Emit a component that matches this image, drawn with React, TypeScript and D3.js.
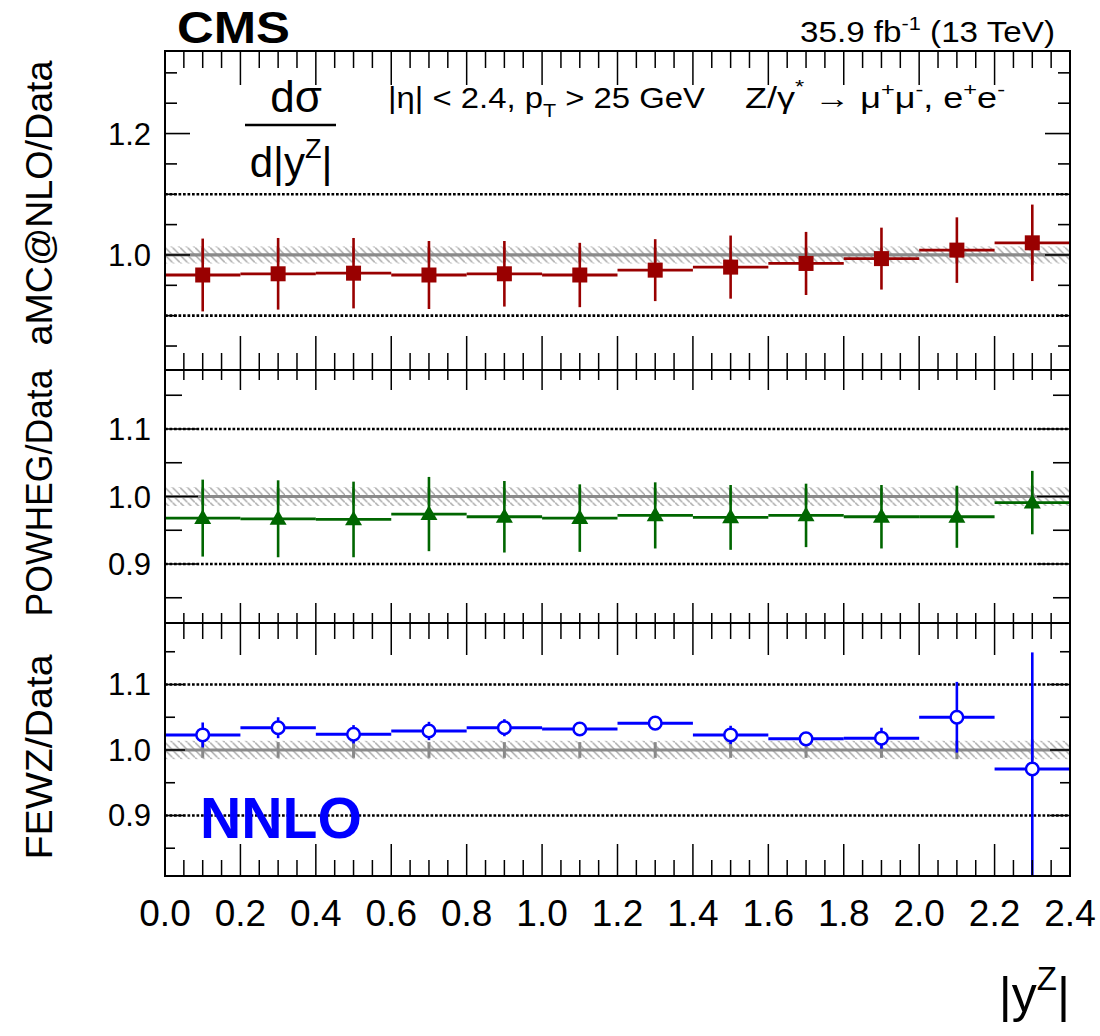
import React from "react";
import * as d3 from "d3";

// ---------- data ----------
const binEdges = [0.0, 0.2, 0.4, 0.6, 0.8, 1.0, 1.2, 1.4, 1.6, 1.8, 2.0, 2.2, 2.4];
const xTickLabels = ["0.0", "0.2", "0.4", "0.6", "0.8", "1.0", "1.2", "1.4", "1.6", "1.8", "2.0", "2.2", "2.4"];

const amcVal = [0.967, 0.969, 0.970, 0.967, 0.969, 0.967, 0.975, 0.980, 0.986, 0.994, 1.008, 1.020];
const amcErr = [0.060, 0.059, 0.058, 0.056, 0.054, 0.053, 0.051, 0.052, 0.052, 0.051, 0.054, 0.063];

const powVal = [0.968, 0.967, 0.966, 0.974, 0.970, 0.968, 0.972, 0.969, 0.972, 0.970, 0.970, 0.991];
const powErr = [0.057, 0.057, 0.056, 0.055, 0.053, 0.050, 0.049, 0.048, 0.047, 0.047, 0.046, 0.047];

const fewzVal = [1.023, 1.034, 1.024, 1.029, 1.034, 1.032, 1.041, 1.023, 1.017, 1.018, 1.050, 0.971];
const fewzErr = [0.019, 0.016, 0.014, 0.014, 0.013, 0.009, 0.008, 0.014, 0.008, 0.016, 0.054, 0.178];

const dataErr = [0.012, 0.012, 0.012, 0.012, 0.012, 0.012, 0.012, 0.012, 0.012, 0.012, 0.014, 0.016];
const bandHalf = 0.014;

const topMajor = [1.0, 1.2];
const topMinor = [0.85, 0.9, 0.95, 1.05, 1.1, 1.15, 1.25, 1.3];
const lowMajor = [0.9, 1.0, 1.1];
const lowMinor = [0.85, 0.95, 1.05, 1.15];
const gridVals = [0.9, 1.1];

// ---------- layout ----------
const X0 = 165, X1 = 1070;
const FONT = "'Liberation Sans', Arial, Helvetica, sans-serif";

const x = d3.scaleLinear().domain([0, 2.4]).range([X0, X1]);

type Panel = {
  top: number; bottom: number; domain: [number, number];
  vals: number[]; errs: number[]; color: string; marker: "square" | "tri" | "circle";
  major: number[]; minor: number[]; labels: string[];
  xMin: number; xMaj: number; yMin: number; yMaj: number;
  title: string; titleY: number; titleLen: number; lineW: number;
};

const panels: Panel[] = [
  { top: 51, bottom: 370, domain: [0.8105, 1.336], vals: amcVal, errs: amcErr, color: "#990000", marker: "square",
    major: topMajor, minor: topMinor, labels: ["1.0", "1.2"], xMin: 17, xMaj: 34, yMin: 12, yMaj: 25,
    title: "aMC@NLO/Data", titleY: 203, titleLen: 285, lineW: 2.8 },
  { top: 370, bottom: 623, domain: [0.8126, 1.1874], vals: powVal, errs: powErr, color: "#006600", marker: "tri",
    major: lowMajor, minor: lowMinor, labels: ["0.9", "1.0", "1.1"], xMin: 10, xMaj: 20, yMin: 17, yMaj: 33,
    title: "POWHEG/Data", titleY: 493, titleLen: 247, lineW: 2.8 },
  { top: 623, bottom: 876, domain: [0.8076, 1.1939], vals: fewzVal, errs: fewzErr, color: "#0000ff", marker: "circle",
    major: lowMajor, minor: lowMinor, labels: ["0.9", "1.0", "1.1"], xMin: 16, xMaj: 32, yMin: 10, yMaj: 20,
    title: "FEWZ/Data", titleY: 757, titleLen: 205, lineW: 3 },
];

const xMinorTicks = d3.range(0, 49).map((i) => i * 0.05);

function PanelView({ p, idx }: { p: Panel; idx: number }) {
  const y = d3.scaleLinear().domain(p.domain).range([p.bottom, p.top]);
  const centers = binEdges.slice(0, -1).map((e, i) => (e + binEdges[i + 1]) / 2);
  const clip = `clip${idx}`;
  const cy = (v: number) => y(Math.max(p.domain[0], Math.min(p.domain[1], v)));
  return (
    <g>
      <defs>
        <clipPath id={clip}>
          <rect x={X0} y={p.top} width={X1 - X0} height={p.bottom - p.top} />
        </clipPath>
      </defs>
      {gridVals.map((g) => (
        <line key={g} x1={X0} x2={X1} y1={y(g)} y2={y(g)} stroke="#000" strokeWidth={2.6} strokeDasharray="2.7,1.8" />
      ))}
      <rect x={X0} y={y(1 + bandHalf)} width={X1 - X0} height={y(1 - bandHalf) - y(1 + bandHalf)} fill="url(#hatch)" />
      {centers.map((c, i) => (
        <line key={"d" + i} x1={x(c)} x2={x(c)} y1={y(1 + dataErr[i])} y2={y(1 - dataErr[i])} stroke="#888" strokeWidth={3} />
      ))}
      <line x1={X0} x2={X1} y1={y(1)} y2={y(1)} stroke="#8a8a8a" strokeWidth={3.2} />
      <g clipPath={`url(#${clip})`}>
        {centers.map((c, i) => (
          <g key={"s" + i}>
            <line x1={x(binEdges[i])} x2={x(binEdges[i + 1])} y1={y(p.vals[i])} y2={y(p.vals[i])} stroke={p.color} strokeWidth={p.lineW} />
            <line x1={x(c)} x2={x(c)} y1={cy(p.vals[i] + p.errs[i])} y2={cy(p.vals[i] - p.errs[i])} stroke={p.color} strokeWidth={2.6} />
            {p.marker === "square" && (
              <rect x={x(c) - 7.5} y={y(p.vals[i]) - 7.5} width={15} height={15} fill={p.color} />
            )}
            {p.marker === "tri" && (
              <path d={d3.symbol(d3.symbolTriangle, 125)() || ""} transform={`translate(${x(c)},${y(p.vals[i]) + 1})`} fill={p.color} />
            )}
            {p.marker === "circle" && (
              <circle cx={x(c)} cy={y(p.vals[i])} r={6.3} fill="#fff" stroke={p.color} strokeWidth={2.5} />
            )}
          </g>
        ))}
      </g>
      {xMinorTicks.map((t, i) => {
        const len = i % 4 === 0 ? p.xMaj : p.xMin;
        return (
          <g key={"xt" + i}>
            <line x1={x(t)} x2={x(t)} y1={p.top} y2={p.top + len} stroke="#000" strokeWidth={1.5} />
            <line x1={x(t)} x2={x(t)} y1={p.bottom} y2={p.bottom - len} stroke="#000" strokeWidth={1.5} />
          </g>
        );
      })}
      {p.major.map((t) => (
        <g key={"ym" + t}>
          <line x1={X0} x2={X0 + p.yMaj} y1={y(t)} y2={y(t)} stroke="#000" strokeWidth={1.6} />
          <line x1={X1} x2={X1 - p.yMaj} y1={y(t)} y2={y(t)} stroke="#000" strokeWidth={1.6} />
        </g>
      ))}
      {p.minor.map((t) => (
        <g key={"yn" + t}>
          <line x1={X0} x2={X0 + p.yMin} y1={y(t)} y2={y(t)} stroke="#000" strokeWidth={1.6} />
          <line x1={X1} x2={X1 - p.yMin} y1={y(t)} y2={y(t)} stroke="#000" strokeWidth={1.6} />
        </g>
      ))}
      {p.major.map((t, i) => (
        <text key={"yl" + t} x={151} y={y(t) + 11} textAnchor="end" fontSize={31} fontFamily={FONT} fill="#000">
          {p.labels[i]}
        </text>
      ))}
      <text transform={`translate(52,${p.titleY}) rotate(-90)`} textAnchor="middle" fontSize={37} fontFamily={FONT} fill="#000"
        textLength={p.titleLen} lengthAdjust="spacingAndGlyphs">
        {p.title}
      </text>
    </g>
  );
}

export default function App() {
  return (
    <svg width={1100} height={1036} style={{ position: "absolute", left: 0, top: 0, background: "#fff" }} fontFamily={FONT}>
      <defs>
        <pattern id="hatch" patternUnits="userSpaceOnUse" width={7.5} height={7.5}>
          <line x1={0} y1={0} x2={7.5} y2={7.5} stroke="#a0a0a0" strokeWidth={1.3} />
        </pattern>
      </defs>
      <rect x={0} y={0} width={1100} height={1036} fill="#fff" />
      {panels.map((p, i) => (
        <PanelView key={i} p={p} idx={i} />
      ))}
      <rect x={X0} y={51} width={X1 - X0} height={876 - 51} fill="none" stroke="#000" strokeWidth={2} />
      <line x1={X0} x2={X1} y1={370} y2={370} stroke="#000" strokeWidth={2} />
      <line x1={X0} x2={X1} y1={623} y2={623} stroke="#000" strokeWidth={2} />
      {binEdges.map((e, i) => (
        <text key={"xl" + i} x={x(e)} y={926} textAnchor="middle" fontSize={37} fill="#000">
          {xTickLabels[i]}
        </text>
      ))}
      <text x={1070} y={1012} textAnchor="end" fontSize={50} fill="#000">
        |y<tspan dy={-22} fontSize={33}>Z</tspan><tspan dy={22}>|</tspan>
      </text>
      <text x={177} y={43} fontSize={45} fontWeight="bold" fill="#000" textLength={113} lengthAdjust="spacingAndGlyphs">CMS</text>
      <text x={800} y={42} fontSize={29} fill="#000" textLength={255} lengthAdjust="spacingAndGlyphs">
        35.9 fb<tspan dy={-12} fontSize={19}>-1</tspan><tspan dy={12}>  (13 TeV)</tspan>
      </text>
      <text x={296} y={112} textAnchor="middle" fontSize={44} fill="#000">dσ</text>
      <line x1={245} x2={336} y1={125} y2={125} stroke="#000" strokeWidth={2.4} />
      <text x={291} y={177} textAnchor="middle" fontSize={42} fill="#000">
        d|y<tspan dy={-19} fontSize={27}>Z</tspan><tspan dy={19}>|</tspan>
      </text>
      <text x={388} y={108} fontSize={29} fill="#000" textLength={317} lengthAdjust="spacingAndGlyphs">
        |η| &lt; 2.4, p<tspan dy={9} fontSize={19}>T</tspan><tspan dy={-9}> &gt; 25 GeV</tspan>
      </text>
      <text x={745} y={108} fontSize={29} fill="#000" textLength={260} lengthAdjust="spacingAndGlyphs">
        Z/γ<tspan dy={-15} fontSize={19}>*</tspan><tspan dy={15}> → μ</tspan><tspan dy={-12} fontSize={19}>+</tspan><tspan dy={12}>μ</tspan><tspan dy={-12} fontSize={19}>-</tspan><tspan dy={12}>, e</tspan><tspan dy={-12} fontSize={19}>+</tspan><tspan dy={12}>e</tspan><tspan dy={-12} fontSize={19}>-</tspan>
      </text>
      <text x={200} y={838} fontSize={57} fontWeight="bold" fill="#0000ff" textLength={162} lengthAdjust="spacingAndGlyphs">NNLO</text>
    </svg>
  );
}
